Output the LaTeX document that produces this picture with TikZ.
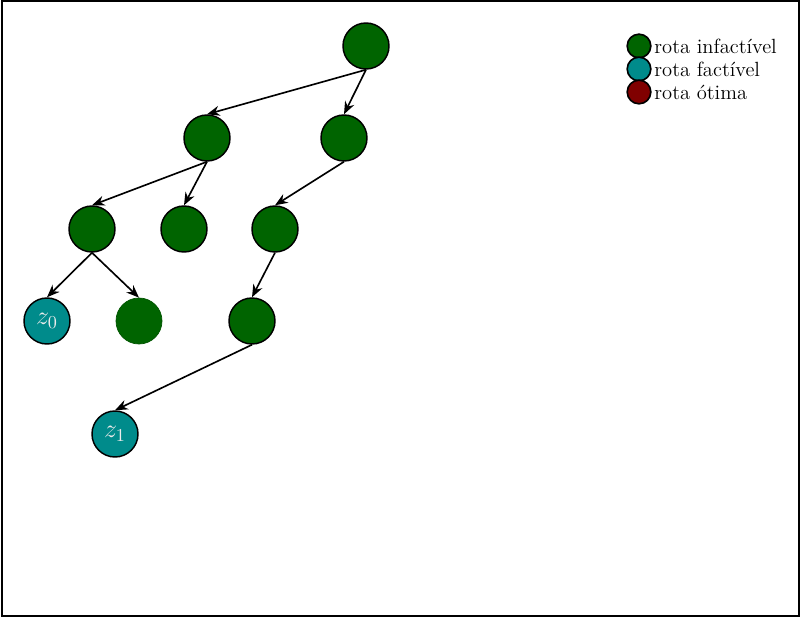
\documentclass[tikz,border=0pt]{standalone}
\usetikzlibrary{arrows.meta}
\definecolor{infgreen}{RGB}{0,100,0}
\definecolor{featteal}{RGB}{0,139,139}
\definecolor{optred}{RGB}{128,0,0}
\tikzset{
  tnode/.style={circle,draw=black,line width=0.8pt,fill=infgreen,minimum size=25.3pt,inner sep=0pt,text=white!92!black,font=\fontsize{14}{16}\selectfont},
  feas/.style={tnode,fill=featteal},
  noborder/.style={tnode,draw=infgreen!85!black,line width=0.4pt},
  edge/.style={-{Stealth[length=7pt,width=5.5pt]},line width=0.9pt},
  legdot/.style={circle,draw=black,line width=0.9pt,minimum size=13pt,inner sep=0pt},
  legtxt/.style={anchor=west,inner sep=0pt,font=\fontsize{11.3}{13}\selectfont}
}
\begin{document}
\begin{tikzpicture}[x=0.55pt,y=-0.55pt]
\useasboundingbox (0,0) rectangle (801,618);
\draw[line width=0.8pt] (2,1) rectangle (799,616);
\node[tnode] (r) at (366,46) {};
\node[tnode] (a) at (207,138) {};
\node[tnode] (b) at (344,138) {};
\node[tnode] (c) at (92,229) {};
\node[tnode] (d) at (184,229) {};
\node[tnode] (e) at (275,229) {};
\node[feas] (z0) at (47,321) {$z_0$};
\node[noborder] (f) at (139,321) {};
\node[tnode] (g) at (252,321) {};
\node[feas] (z1) at (115,434) {$z_1$};
\draw[edge] (r.south) -- (a.north);
\draw[edge] (r.south) -- (b.north);
\draw[edge] (a.south) -- (c.north);
\draw[edge] (a.south) -- (d.north);
\draw[edge] (b.south) -- (e.north);
\draw[edge] (c.south) -- (z0.north);
\draw[edge] (c.south) -- (f.north);
\draw[edge] (e.south) -- (g.north);
\draw[edge] (g.south) -- (z1.north);
\node[legdot,fill=infgreen] (l1) at (639,46) {};
\node[legdot,fill=featteal] (l2) at (639,69) {};
\node[legdot,fill=optred] (l3) at (639,92) {};
\node[legtxt] (t1) at (654,46) {rota infactível};
\node[legtxt] (t2) at (654,69) {rota factível};
\node[legtxt] (t3) at (654,92) {rota ótima};
\end{tikzpicture}
\end{document}
